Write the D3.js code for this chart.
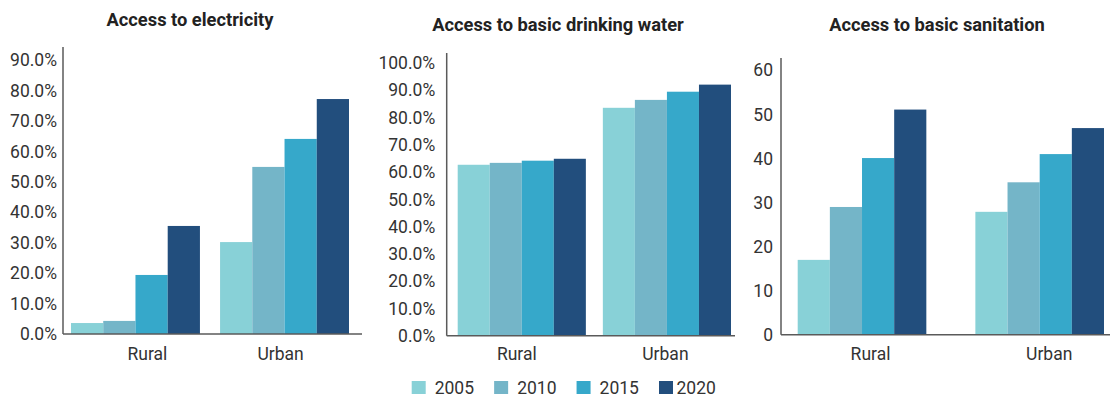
<!DOCTYPE html>
<html><head><meta charset="utf-8">
<script src="https://cdn.jsdelivr.net/npm/d3@7"></script>
<style>
html,body{margin:0;padding:0;background:#fff;}
svg{display:block;font-family:Roboto,"Noto Sans",sans-serif;}
</style></head>
<body>
<svg id="chart" width="1110" height="399"></svg>
<script>
const categories = ["Rural", "Urban"];
const years = ["2005", "2010", "2015", "2020"];
const colors = ["#88d1d7", "#74b5c8", "#36a8ca", "#224e7d"];

const titles = ["Access to electricity", "Access to basic drinking water", "Access to basic sanitation"];

// values[year][category]
const electricity = [
  [3.6, 30.2],
  [4.3, 54.9],
  [19.4, 64.1],
  [35.5, 77.2]
];
const water = [
  [62.7, 83.6],
  [63.4, 86.5],
  [64.2, 89.5],
  [64.9, 92.1]
];
const sanitation = [
  [17.0, 27.9],
  [29.0, 34.6],
  [40.1, 41.0],
  [51.1, 46.9]
];

const pctTicks = [0, 10, 20, 30, 40, 50, 60, 70, 80, 90];
const pctTicks2 = [0, 10, 20, 30, 40, 50, 60, 70, 80, 90, 100];
const numTicks = [0, 10, 20, 30, 40, 50, 60];

const panels = [
  {title: titles[0], data: electricity, ticks: pctTicks, fmt: d => d3.format(".1f")(d) + "%",
   ax0: 63, ax1: 362, barL: 71, barR: 349, padIn: 0.135, yTop: 47, yBase: 334, yMax: 94.3,
   tickPad: 6, titleX: 190, titleY: 26, labelNudge: [12, -4]},
  {title: titles[1], data: water, ticks: pctTicks2, fmt: d => d3.format(".1f")(d) + "%",
   ax0: 446.7, ax1: 735, barL: 457.7, barR: 731, padIn: 0.117, yTop: 53, yBase: 335.7, yMax: 103.7,
   tickPad: 11.5, titleX: 558, titleY: 30.5, labelNudge: [-5, -1.5]},
  {title: titles[2], data: sanitation, ticks: numTicks, fmt: d => d3.format("d")(d),
   ax0: 781, ax1: 1110, barL: 797.7, barR: 1104, padIn: 0.276, yTop: 58, yBase: 334.8, yMax: 62.8,
   tickPad: 8, titleX: 937, titleY: 30.5, labelNudge: [8.5, 9.5]}
];

const svg = d3.select("#chart");
const textColor = "#333333";
const axisColor = "#5a5a5a";

panels.forEach(p => {
  const g = svg.append("g");
  const x0 = d3.scaleBand().domain(categories).range([p.barL, p.barR]).paddingInner(p.padIn).paddingOuter(0);
  const x1 = d3.scaleBand().domain(years).range([0, x0.bandwidth()]).padding(0);
  const y = d3.scaleLinear().domain([0, p.yMax]).range([p.yBase, p.yTop]);

  // title
  g.append("text").attr("x", p.titleX).attr("y", p.titleY)
    .attr("text-anchor", "middle").attr("font-weight", "bold").attr("font-size", 18.3)
    .attr("fill", "#222").text(p.title);

  // bars
  years.forEach((yr, i) => {
    g.selectAll(null).data(categories).enter().append("rect")
      .attr("x", c => x0(c) + x1(yr))
      .attr("width", x1.bandwidth())
      .attr("y", (c, j) => y(p.data[i][j]))
      .attr("height", (c, j) => y(0) - y(p.data[i][j]))
      .attr("fill", colors[i]);
  });

  // y axis
  const yAxis = d3.axisLeft(y).tickValues(p.ticks).tickFormat(p.fmt).tickSize(0).tickPadding(p.tickPad);
  const ya = g.append("g").attr("transform", `translate(${p.ax0},0)`).call(yAxis);
  ya.select(".domain").remove();
  ya.selectAll("text").attr("font-size", 17.5).attr("fill", textColor).attr("font-family", "Roboto");
  g.append("line").attr("x1", p.ax0).attr("x2", p.ax0).attr("y1", p.yTop).attr("y2", p.yBase)
    .attr("stroke", axisColor).attr("stroke-width", 1.5);

  // x axis
  g.append("line").attr("x1", p.ax0).attr("x2", p.ax1).attr("y1", p.yBase).attr("y2", p.yBase)
    .attr("stroke", axisColor).attr("stroke-width", 1.5);
  g.selectAll(null).data(categories).enter().append("text")
    .attr("x", (c, j) => x0(c) + x0.bandwidth() / 2 + p.labelNudge[j])
    .attr("y", 360).attr("text-anchor", "middle").attr("font-size", 17.5)
    .attr("fill", textColor).text(c => c);
});

// legend
const legendX = d3.scalePoint().domain(years).range([411.7, 659]);
const lg = svg.append("g");
years.forEach((yr, i) => {
  lg.append("rect").attr("x", legendX(yr)).attr("y", 381).attr("width", 14).attr("height", 13).attr("fill", colors[i]);
  lg.append("text").attr("x", legendX(yr) + (i === 3 ? 17.5 : 23)).attr("y", 394)
    .attr("font-size", 17.5).attr("fill", textColor).text(yr);
});
</script>
</body></html>
